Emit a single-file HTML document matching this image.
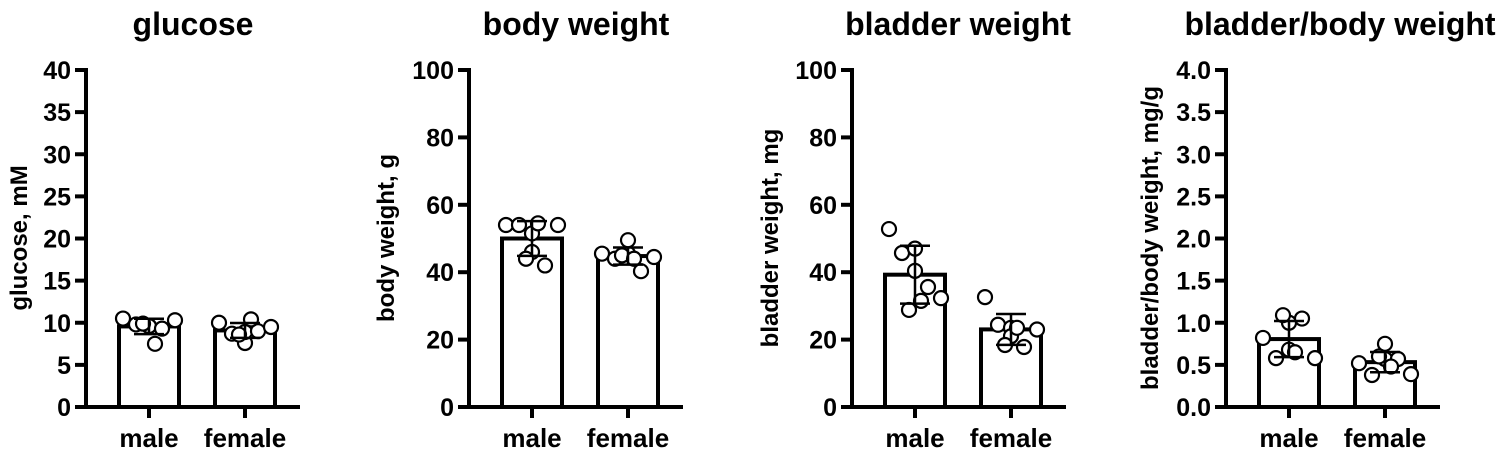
<!DOCTYPE html>
<html><head><meta charset="utf-8"><style>
html,body{margin:0;padding:0;background:#fff;}
svg{display:block;font-family:"Liberation Sans",Arial,sans-serif;font-weight:bold;}
</style></head><body>
<svg id="c" width="1500" height="451" viewBox="0 0 1500 451"></svg>
<script>
const titles = ["glucose","body weight","bladder weight","bladder/body weight"];
const yTitles = ["glucose, mM","body weight, g","bladder weight, mg","bladder/body weight, mg/g"];
const categories = ["male","female"];
const yMax = [40,100,100,4.0];
const tickLabels0 = ["0","5","10","15","20","25","30","35","40"];
const tickLabels1 = ["0","20","40","60","80","100"];
const tickLabels2 = ["0","20","40","60","80","100"];
const tickLabels3 = ["0.0","0.5","1.0","1.5","2.0","2.5","3.0","3.5","4.0"];
const glucoseMale = [10.5,9.8,9.6,9.6,9.3,10.3,9.9,7.5];
const glucoseFemale = [10.0,8.7,7.6,8.9,9.0,9.5,8.6,10.4];
const bodyMale = [54,54,51.5,46,42,54,44,54.5];
const bodyFemale = [45.5,44,45.5,49.5,40.3,44.5,45,44];
const bladderMale = [52.8,45.7,47,40.4,35.6,32.3,28.8,31.5];
const bladderFemale = [32.6,24.4,23.5,21,17.8,23,18.4,23.5];
const ratioMale = [0.82,0.58,1.0,0.68,1.05,0.58,1.09,0.65];
const ratioFemale = [0.52,0.38,0.57,0.75,0.57,0.39,0.6,0.48];

const series = [[glucoseMale,glucoseFemale],[bodyMale,bodyFemale],[bladderMale,bladderFemale],[ratioMale,ratioFemale]];
const ticks = [tickLabels0,tickLabels1,tickLabels2,tickLabels3];
const axisX = [86,469,852,1226];
const titleX = [193,576,958,1340];
const yLabX = [27,394,778,1158];
const jitter = [-26,-13,0,0,13,26,-6,6];
const NS="http://www.w3.org/2000/svg";
const svg=document.getElementById('c');
function mk(tag,attrs,parent){const e=document.createElementNS(NS,tag);for(const k in attrs)e.setAttribute(k,attrs[k]);(parent||svg).appendChild(e);return e;}
const Y0=407,Y1=70;
for(let p=0;p<4;p++){
  const g=mk('g',{});
  
  
  const ax=axisX[p];
  const ys=v=>Y0-(v/yMax[p])*(Y0-Y1);
  const t=mk('text',{x:titleX[p],y:35,'text-anchor':'middle','font-size':32},g);t.textContent=titles[p];
  
  
  const yl=mk('text',{x:0,y:0,'text-anchor':'middle','font-size':24,transform:`translate(${yLabX[p]},238) rotate(-90)`},g);yl.textContent=yTitles[p];
  
  
  const yaxis=mk('line',{x1:ax,y1:Y1-2,x2:ax,y2:Y0+2,stroke:'#000','stroke-width':4},g);
  
  
  const xaxis=mk('line',{x1:ax,y1:Y0,x2:ax+214,y2:Y0,stroke:'#000','stroke-width':4},g);
  
  
  const tl=ticks[p];
  tl.forEach((lab,i)=>{
    const v=yMax[p]*i/(tl.length-1);const y=ys(v);
    const tk=mk('line',{x1:ax-11,y1:y,x2:ax,y2:y,stroke:'#000','stroke-width':4},g);
    
    
    const tt=mk('text',{x:ax-15,y:y+9,'text-anchor':'end','font-size':25},g);tt.textContent=lab;
    
    
  });
  categories.forEach((cat,ci)=>{
    const cx=ax+63+ci*96;
    const d=series[p][ci];
    const m=d.reduce((a,b)=>a+b,0)/d.length;
    const sd=Math.sqrt(d.reduce((a,b)=>a+(b-m)*(b-m),0)/(d.length-1));
    const bar=mk('rect',{x:cx-30,y:ys(m),width:60,height:Y0-ys(m),fill:'#fff',stroke:'#000','stroke-width':4},g);
    
    
    const xt=mk('line',{x1:cx,y1:Y0,x2:cx,y2:Y0+11,stroke:'#000','stroke-width':4},g);
    
    
    const xl=mk('text',{x:cx,y:447,'text-anchor':'middle','font-size':26},g);xl.textContent=cat;
    
    
    d.forEach((v,i)=>{
      const c=mk('circle',{cx:cx+jitter[i],cy:ys(v),r:7,fill:'#fff',stroke:'#000','stroke-width':2.2},g);
      
      
    });
    const eb=mk('path',{d:`M${cx},${ys(m+sd)}V${ys(m-sd)}M${cx-15},${ys(m+sd)}H${cx+15}M${cx-15},${ys(m-sd)}H${cx+15}`,stroke:'#000','stroke-width':2.5,fill:'none'},g);
    
    
  });
}
</script>
</body></html>
